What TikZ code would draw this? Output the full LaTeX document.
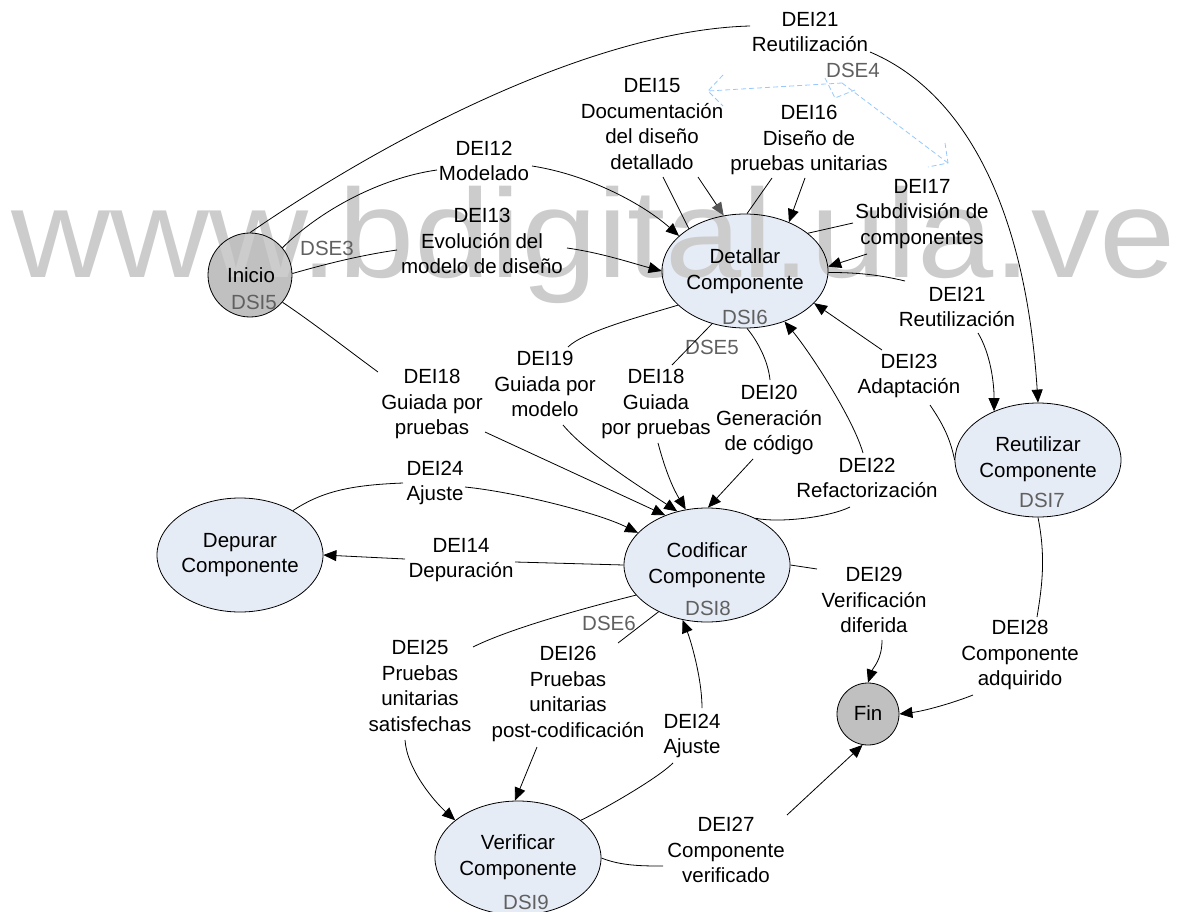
\documentclass[tikz,border=0pt]{standalone}
\usepackage{fontspec}
\setmainfont{Liberation Sans}
\usetikzlibrary{arrows.meta,shapes.geometric}
\definecolor{procfill}{RGB}{230,236,246}
\definecolor{termfill}{RGB}{192,192,192}
\definecolor{dsigray}{RGB}{96,96,96}
\definecolor{wmgray}{RGB}{204,204,204}
\definecolor{dseblue}{RGB}{150,200,255}
\definecolor{tipgray}{RGB}{85,85,85}
\pgfdeclarelayer{bg}
\pgfdeclarelayer{wm}
\pgfsetlayers{bg,wm,main}
\newcommand\lblfont{\fontsize{20.5}{25.5}\selectfont}
\begin{document}
\begin{tikzpicture}[x=1pt,y=-1pt,
  lbl/.style={font=\lblfont, align=center, inner sep=0pt},
  gtxt/.style={font=\lblfont, text=dsigray, inner sep=0pt},
  proc/.style={ellipse, draw, line width=0.8pt, minimum width=166pt, minimum height=114pt, inner sep=0pt},
  term/.style={circle, draw, line width=0.8pt, inner sep=0pt},
  conn/.style={line width=0.8pt},
  arr/.style={conn, -{Triangle[length=13pt,width=11pt]}},
  garr/.style={conn, -{Triangle[length=13pt,width=11pt,color=tipgray]}},
  dse/.style={dseblue, line width=0.8pt, dash pattern=on 5pt off 3pt}]
\useasboundingbox (0,0) rectangle (1191,912);

% states
\node[term, minimum size=84pt] (ini) at (250,275) {};
\node[term, minimum size=62pt] (fin) at (868,714) {};
\node[proc] (det) at (745,271) {};
\node[proc] (reu) at (1038,460) {};
\node[proc] (dep) at (240,555) {};
\node[proc] (cod) at (707,565) {};
\node[proc] (ver) at (518,858) {};

% fills below the watermark
\begin{pgfonlayer}{bg}
  \fill[termfill] (ini.center) circle [radius=42pt];
  \fill[termfill] (fin.center) circle [radius=31pt];
  \foreach \n in {det,reu,dep,cod,ver}
    \fill[procfill] (\n.center) ellipse [x radius=83pt, y radius=57pt];
\end{pgfonlayer}

% watermark
\begin{pgfonlayer}{wm}
  \node[anchor=base west, inner sep=0pt, text=wmgray, font=\fontsize{137}{137}\selectfont] (wmark) at (11,277) {\scalebox{1}[0.92]{www.bdigital.ula.ve}};
\end{pgfonlayer}

% state texts
\node[lbl] (iniT) at (251,275) {Inicio};
\node[gtxt] (dsi5) at (254,302) {DSI5};
\node[lbl] (finT) at (868,713) {Fin};
\node[lbl] (detT) at (745,271) {Detallar\\Componente};
\node[gtxt] (dsi6) at (745,317) {DSI6};
\node[lbl] (reuT) at (1038,459) {Reutilizar\\Componente};
\node[gtxt] (dsi7) at (1042,500) {DSI7};
\node[lbl] (depT) at (240,555) {Depurar\\Componente};
\node[lbl] (codT) at (707,565) {Codificar\\Componente};
\node[gtxt] (dsi8) at (708,608) {DSI8};
\node[lbl] (verT) at (518,857) {Verificar\\Componente};
\node[gtxt] (dsi9) at (526,902) {DSI9};

% event labels
\node[lbl] (l21t) at (810,32) {DEI21\\Reutilización};
\node[lbl] (l15) at (652,124) {DEI15\\Documentación\\del diseño\\detallado};
\node[lbl] (l16) at (809,140) {DEI16\\Diseño de\\pruebas unitarias};
\node[lbl] (l17) at (922,214) {DEI17\\Subdivisión de\\componentes};
\node[lbl] (l21r) at (957,307) {DEI21\\Reutilización};
\node[lbl] (l23) at (909,376) {DEI23\\Adaptación};
\node[lbl] (l12) at (484,161) {DEI12\\Modelado};
\node[lbl] (l13) at (482,241) {DEI13\\Evolución del\\modelo de diseño};
\node[lbl] (l18) at (432,404) {DEI18\\Guiada por\\pruebas};
\node[lbl] (l19) at (545,384) {DEI19\\Guiada por\\modelo};
\node[lbl] (l18m) at (656,404) {DEI18\\Guiada\\por pruebas};
\node[lbl] (l20) at (769,420) {DEI20\\Generación\\de código};
\node[lbl] (l22) at (867,478) {DEI22\\Refactorización};
\node[lbl] (l24) at (435,483) {DEI24\\Ajuste};
\node[lbl] (l14) at (461,560) {DEI14\\Depuración};
\node[lbl] (l29) at (874,600) {DEI29\\Verificación\\diferida};
\node[lbl] (l25) at (420,686) {DEI25\\Pruebas\\unitarias\\satisfechas};
\node[lbl] (l26) at (568,694) {DEI26\\Pruebas\\unitarias\\post-codificación};
\node[lbl] (l24v) at (692,736) {DEI24\\Ajuste};
\node[lbl] (l27) at (726,850) {DEI27\\Componente\\verificado};
\node[lbl] (l28) at (1020,655) {DEI28\\Componente\\adquirido};

% flow labels
\node[gtxt] (dse3) at (327,248) {DSE3};
\node[gtxt] (dse4) at (853,70) {DSE4};
\node[gtxt] (dse5) at (712,347) {DSE5};
\node[gtxt] (dse6) at (609,623) {DSE6};

% line ends beside the labels
\coordinate (c21a) at (750,26);   \coordinate (c21b) at (870,52);
\coordinate (c12a) at (437,170);  \coordinate (c12b) at (532,166);
\coordinate (c13a) at (397,250);  \coordinate (c13b) at (567,248);
\coordinate (c18a) at (378,372);  \coordinate (c18b) at (485,432);
\coordinate (c19a) at (568,347);  \coordinate (c19b) at (563,425);
\coordinate (c18ma) at (672,365); \coordinate (c18mb) at (658,443);
\coordinate (c20a) at (770,380);  \coordinate (c20b) at (753,459);
\coordinate (c22a) at (850,507);  \coordinate (c22b) at (863,453);
\coordinate (c23a) at (930,405);  \coordinate (c23b) at (882,350);
\coordinate (c21ra) at (905,281); \coordinate (c21rb) at (978,333);
\coordinate (c15a) at (663,177);  \coordinate (c15b) at (698,177);
\coordinate (c16a) at (772,178);  \coordinate (c16b) at (805,178);
\coordinate (c17a) at (853,223);  \coordinate (c17b) at (867,254);
\coordinate (c24a) at (403,483);  \coordinate (c24b) at (465,487);
\coordinate (c14a) at (515,562);  \coordinate (c14b) at (405,559);
\coordinate (c29a) at (817,569);  \coordinate (c29b) at (882,640);
\coordinate (c28a) at (1037,617); \coordinate (c28b) at (973,695);
\coordinate (c25a) at (473,647);  \coordinate (c25b) at (405,740);
\coordinate (c26a) at (618,643);  \coordinate (c26b) at (537,747);
\coordinate (c24va) at (673,763); \coordinate (c24vb) at (702,708);
\coordinate (c27a) at (663,866);  \coordinate (c27b) at (787,815);

% DEI21: Inicio -> Reutilizar
\draw[conn] (ini.90) .. controls +(150,-103) and +(-150,4) .. (c21a);
\draw[arr] (c21b) .. controls +(90,38) and +(-13,-203) .. (reu.90);
% DEI12
\draw[conn] (ini.40) .. controls +(37,-37) and +(-57,8) .. (c12a);
\draw[arr] (c12b) .. controls +(58,9) and +(-35,-31) .. (det.152);
% DEI13
\draw[conn] (ini.2) .. controls +(35,-10) and +(-35,5) .. (c13a);
\draw[arr] (c13b) .. controls +(35,5) and +(-30,-8) .. (det.180);
% DEI18: Inicio -> Codificar
\draw[conn] (ini.-40) .. controls +(30,20) and +(-30,-22) .. (c18a);
\draw[arr] (c18b) -- (cod.130);
% DEI19
\draw[conn] (det.-153) .. controls +(-40,12) and +(15,-15) .. (c19a);
\draw[arr] (c19b) .. controls +(25,30) and +(-30,-20) .. (cod.119);
% DEI18: Detallar -> Codificar
\draw[conn] (det.-122) -- (c18ma);
\draw[arr] (c18mb) .. controls +(8,30) and +(-12,-20) .. (cod.111);
% DEI20
\draw[conn] (det.-88) .. controls +(10,12) and +(-2,-20) .. (c20a);
\draw[arr] (c20b) -- (cod.89);
% DEI22
\draw[conn] (cod.44) .. controls +(25,5) and +(-20,10) .. (c22a);
\draw[arr] (c22b) .. controls +(-10,-35) and +(25,30) .. (det.-52);
% DEI23
\draw[conn] (reu.180) .. controls +(-5,-25) and +(10,15) .. (c23a);
\draw[arr] (c23b) -- (det.-25);
% DEI21: Detallar -> Reutilizar
\draw[conn] (det.-1) .. controls +(30,0) and +(-25,-6) .. (c21ra);
\draw[arr] (c21rb) .. controls +(12,20) and +(0,-30) .. (reu.132);
% DEI15, DEI16, DEI17 on Detallar
\draw[conn] (det.143) -- (c15a);
\draw[garr] (c15b) -- (det.111);
\draw[conn] (det.88) -- (c16a);
\draw[arr] (c16b) -- (det.48);
\draw[conn] (det.31) -- (c17a);
\draw[arr] (c17b) -- (det.3);
% DEI24: Depurar -> Codificar
\draw[conn] (dep.40) .. controls +(30,-20) and +(-50,2) .. (c24a);
\draw[arr] (c24b) .. controls +(50,5) and +(-40,-20) .. (cod.155);
% DEI14
\draw[conn] (cod.180) -- (c14a);
\draw[arr] (c14b) -- (dep.0);
% DEI29
\draw[conn] (cod.0) -- (c29a);
\draw[arr] (c29b) .. controls +(0,20) and +(5,-15) .. (fin.90);
% DEI28
\draw[conn] (reu.-90) .. controls +(8,40) and +(5,-30) .. (c28a);
\draw[arr] (c28b) .. controls +(-20,8) and +(25,-3) .. (fin.0);
% DEI25
\draw[conn] (cod.-157) .. controls +(-40,10) and +(40,-20) .. (c25a);
\draw[arr] (c25b) .. controls +(2,30) and +(-20,-18) .. (ver.149);
% DEI26
\draw[conn] (cod.-136) -- (c26a);
\draw[arr] (c26b) -- (ver.93);
% DEI24: Verificar -> Codificar
\draw[conn] (ver.31) .. controls +(25,-12) and +(-15,15) .. (c24va);
\draw[arr] (c24vb) .. controls +(0,-30) and +(8,20) .. (cod.-114);
% DEI27
\draw[conn] (ver.0) .. controls +(20,8) and +(-20,0) .. (c27a);
\draw[arr] (c27b) -- (fin.-100);

% DSE4 dashed spread arrows
\coordinate (hub) at (842,83);
\coordinate (dL) at (708,91);
\coordinate (dR) at (948,163);
\coordinate (dS) at (835,98);
\draw[dse] (hub) -- (dL);
\draw[dse] (723,75) -- (dL) -- (723,106);
\draw[dse] (hub) -- (dR);
\draw[dse] (945,143) -- (dR) -- (928,167);
\draw[dse] (825,78) -- (dS) -- (855,90);
\end{tikzpicture}
\end{document}
